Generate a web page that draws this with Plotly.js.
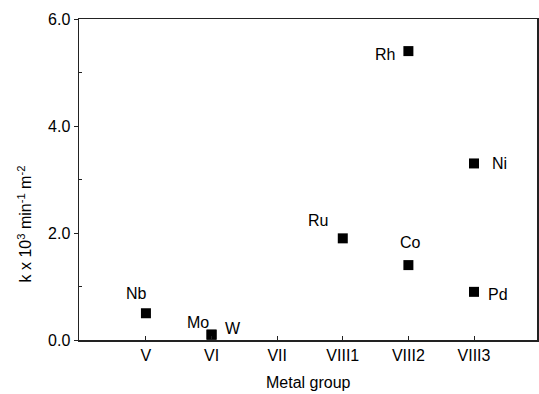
<!DOCTYPE html>
<html>
<head>
<meta charset="utf-8">
<script src="https://cdn.plot.ly/plotly-3.0.1.min.js"></script>
<style>html,body{margin:0;padding:0;background:#fff;}#chart{width:539px;height:394px;}</style>
</head>
<body>
<div id="chart"></div>
<script>
const groups = ["V", "VI", "VII", "VIII1", "VIII2", "VIII3"];
const metals = ["Nb", "Mo", "W", "Ru", "Rh", "Co", "Ni", "Pd"];
const metalGroup = ["V", "VI", "VI", "VIII1", "VIII2", "VIII2", "VIII3", "VIII3"];
const rate = [0.5, 0.1, 0.1, 1.9, 5.4, 1.4, 3.3, 0.9];
// label offsets in pixels (styling only)
const labelShiftX = [-9, -14, 21, -25, -23, 2, 25, 24];
const labelShiftY = [20, 12, 6, 18, -3, 23, 0, -3];

const font = {family: "Liberation Sans, Arial, sans-serif", size: 16, color: "#000"};

const trace = {
  x: metalGroup, y: rate, type: "scatter", mode: "markers",
  marker: {symbol: "square", size: 10, color: "#000"},
  hoverinfo: "skip", cliponaxis: false
};

const annotations = metals.map((m, i) => ({
  x: metalGroup[i], y: rate[i], xref: "x", yref: "y", text: m, showarrow: false,
  xshift: labelShiftX[i], yshift: labelShiftY[i], font: font
}));
annotations.push({
  xref: "paper", yref: "paper", x: 0, y: 0.36, xshift: -54, text: "k x 10<sup>3</sup> min<sup>-1</sup> m<sup>-2</sup>",
  textangle: -90, showarrow: false, font: font, xanchor: "center", yanchor: "middle"
});
annotations.push({
  xref: "paper", yref: "paper", x: 0.5, y: 0, yshift: -42, text: "Metal group",
  showarrow: false, font: font, xanchor: "center", yanchor: "middle"
});

const layout = {
  width: 539, height: 394,
  margin: {l: 79, r: 2, t: 19, b: 54},
  paper_bgcolor: "#fff", plot_bgcolor: "#fff",
  showlegend: false, font: font,
  xaxis: {
    type: "category", categoryorder: "array", categoryarray: groups,
    range: [-1.02, 5.96], showgrid: false, zeroline: false,
    showline: true, linecolor: "#222", linewidth: 1.5, mirror: true,
    ticks: "inside", ticklen: 4, tickcolor: "#222",
    tickfont: font
  },
  yaxis: {
    range: [0, 6], tickvals: [0, 2, 4, 6], ticktext: ["0.0", "2.0", "4.0", "6.0"],
    showgrid: false, zeroline: false,
    showline: true, linecolor: "#222", linewidth: 1.5, mirror: true,
    ticks: "outside", ticklen: 4, tickcolor: "#222", tickfont: font,
    minor: {tickvals: [1, 3, 5], ticks: "inside", ticklen: 3, tickcolor: "#222"}
  },
  annotations: annotations
};

Plotly.newPlot("chart", [trace], layout, {displayModeBar: false, staticPlot: true});
</script>
</body>
</html>
